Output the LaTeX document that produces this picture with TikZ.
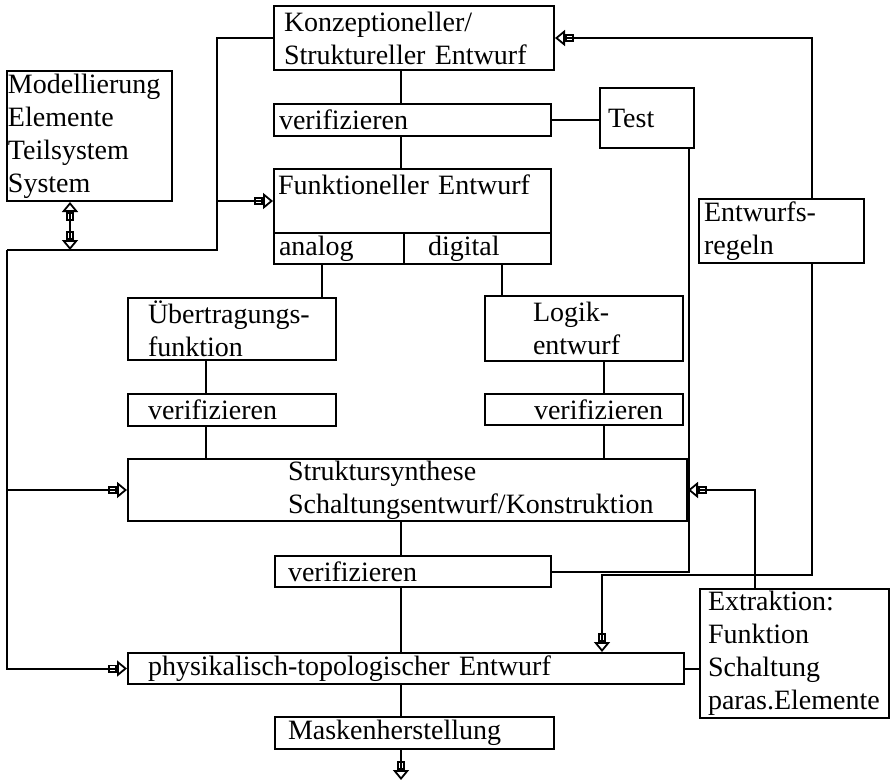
\documentclass[tikz,border=0pt]{standalone}
\usepackage{fontspec}
\setmainfont{Liberation Serif}
\usetikzlibrary{arrows.meta}
\hyphenpenalty=10000
\exhyphenpenalty=10000

\tikzset{
  block/.style={draw, line width=1pt, anchor=north west, align=left, inner ysep=0pt,
    font=\fontsize{14}{16.5}\selectfont},
  wire/.style={line width=1pt},
  hollow/.style={wire, -{Square[open,length=4.5pt,width=4pt,line width=0.9pt]Triangle[open,length=5pt,width=8pt,line width=0.9pt]}},
  hollow2/.style={wire, {Triangle[open,length=5pt,width=8pt,line width=0.9pt]Square[open,length=4.5pt,width=4pt,line width=0.9pt]}-{Square[open,length=4.5pt,width=4pt,line width=0.9pt]Triangle[open,length=5pt,width=8pt,line width=0.9pt]}},
}

\begin{document}
\begin{tikzpicture}[x=0.5pt, y=-0.5pt]
\useasboundingbox (0,0) rectangle (892,782);

% boxes
\node[block, text width=130pt, inner xsep=5pt, minimum height=32pt] (konz) at (273,5) {Konzeptioneller/\\Struktureller~Entwurf};
\node[block, text width=81.5pt, inner xsep=0.5pt, minimum height=65pt] (modl) at (6,70) {Modellierung\\Elemente\\Teilsystem\\System};
\node[block, text width=133.5pt, inner xsep=2.5pt, minimum height=16pt] (ver1) at (273,103) {verifizieren};
\node[block, text width=39pt, inner xsep=4pt, minimum height=30pt] (test) at (599,87) {Test};
\node[block, text width=134.5pt, inner xsep=2pt, minimum height=32pt] (funk) at (273,168) {Funktioneller~Entwurf\\\mbox{}};
\node[block, text width=60pt, inner xsep=2.5pt, minimum height=15.5pt] (ana) at (273,232) {analog};
\node[block, text width=49.5pt, inner xsep=12pt, minimum height=15.5pt] (dig) at (403,232) {digital};
\node[block, text width=77.5pt, inner xsep=2.5pt, minimum height=32pt] (regeln) at (698,198) {Entwurfs-\\regeln};
\node[block, text width=84pt, inner xsep=10pt, minimum height=31pt] (uebr) at (127,297) {Übertragungs-\\funktion};
\node[block, text width=51pt, inner xsep=24pt, minimum height=32.5pt] (logik) at (484,295) {Logik-\\entwurf};
\node[block, text width=84pt, inner xsep=10pt, minimum height=16pt] (ver2) at (127,393) {verifizieren};
\node[block, text width=50pt, inner xsep=24.5pt, minimum height=15.5pt] (ver4) at (484,393) {verifizieren};
\node[block, text width=119.5pt, inner xsep=80pt, minimum height=31pt] (strukt) at (127,458) {Struktursynthese\\Schaltungsentwurf/Konstruktion};
\node[block, text width=125pt, inner xsep=6.5pt, minimum height=15.5pt] (ver3) at (274,555) {verifizieren};
\node[block, text width=258pt, inner xsep=10pt, minimum height=15.5pt] (phys) at (127,652) {physikalisch-topologischer~Entwurf};
\node[block, text width=86.5pt, inner xsep=4pt, minimum height=64.5pt] (extr) at (699,588) {Extraktion:\\Funktion\\Schaltung\\paras.Elemente};
\node[block, text width=126.5pt, inner xsep=6.5pt, minimum height=16pt] (mask) at (274,716) {Maskenherstellung};

% columns and corners
\coordinate (mid) at (401,0);
\coordinate (acol) at (322,0);
\coordinate (dcol) at (502,0);
\coordinate (ucol) at (206,0);
\coordinate (lcol) at (604,0);
\coordinate (tcol) at (689,0);
\coordinate (ecol) at (755,0);
\coordinate (rcol) at (812,0);
\coordinate (r1) at (812,575);
\coordinate (r2) at (602,575);
\coordinate (b2) at (217,250);
\coordinate (l2) at (7,250);
\coordinate (m1) at (70,250);
\coordinate (out) at (401,780);

% main flow
\draw[wire] (konz.south -| mid) -- (ver1.north -| mid);
\draw[wire] (ver1.south -| mid) -- (funk.north -| mid);
\draw[wire] (ver1.east) -- (ver1.east -| test.west);
\draw[wire] (ana.south -| acol) -- (uebr.north -| acol);
\draw[wire] (dig.south -| dcol) -- (logik.north -| dcol);
\draw[wire] (uebr.south -| ucol) -- (ver2.north -| ucol);
\draw[wire] (ver2.south -| ucol) -- (strukt.north -| ucol);
\draw[wire] (logik.south -| lcol) -- (ver4.north -| lcol);
\draw[wire] (ver4.south -| lcol) -- (strukt.north -| lcol);
\draw[wire] (strukt.south -| mid) -- (ver3.north -| mid);
\draw[wire] (ver3.south -| mid) -- (phys.north -| mid);
\draw[wire] (phys.south -| mid) -- (mask.north -| mid);
\draw[hollow] (mask.south -| out) -- (out);
\draw[wire] (test.south -| tcol) |- (ver3.east);
\draw[wire] (phys.east) -- (phys.east -| extr.west);

% feedback
\draw[hollow] (extr.north -| ecol) |- (strukt.east);
\draw[hollow] (regeln.north -| rcol) |- (konz.east);
\draw[hollow] (regeln.south -| rcol) -- (r1) -- (r2) -- (phys.north -| r2);

% left bus
\draw[wire] (konz.west) -| (b2) -- (l2);
\draw[hollow] (l2) |- (phys.west);
\draw[hollow] (b2 |- funk.west) -- (funk.west);
\draw[hollow] (l2 |- strukt.west) -- (strukt.west);
\draw[hollow2] (m1) -- (modl.south -| m1);
\end{tikzpicture}
\end{document}
